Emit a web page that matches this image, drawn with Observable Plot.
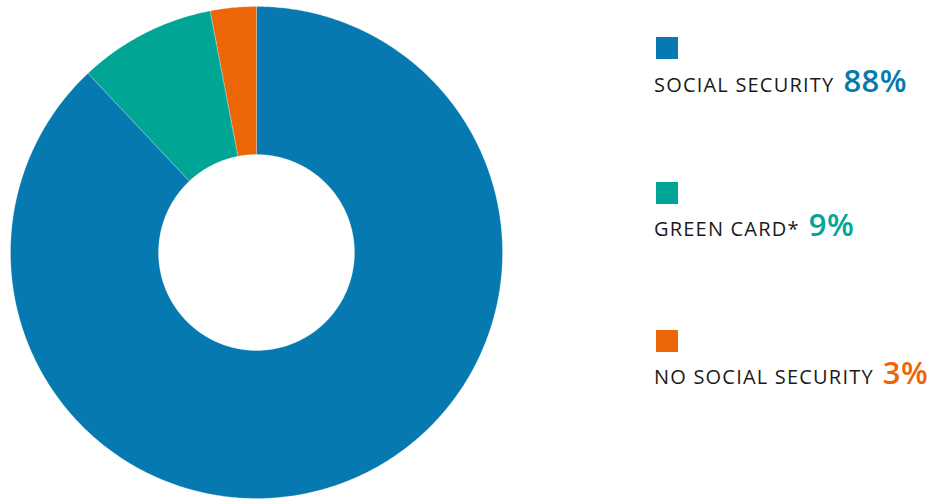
<!DOCTYPE html>
<html>
<head>
<meta charset="utf-8">
<script src="https://cdn.jsdelivr.net/npm/d3@7"></script>
<script src="https://cdn.jsdelivr.net/npm/@observablehq/plot@0.6"></script>
<style>
  html, body { margin: 0; padding: 0; background: #fff; }
  #wrap { position: relative; width: 931px; height: 499px; overflow: hidden; }
  #chart { position: absolute; left: 0; top: 0; }
  .item { position: absolute; left: 654px; font-family: "Open Sans", sans-serif; }
  .sw { position: absolute; left: 2px; width: 22px; height: 22px; }
  .lab { position: absolute; left: 0; white-space: nowrap; font-size: 20px; letter-spacing: 1.2px; color: #1a1a1a; line-height: 1; }
  .pct { font-weight: 600; font-size: 31px; letter-spacing: 0.5px; margin-left: 9px; }
</style>
</head>
<body>
<div id="wrap">
  <div id="chart"></div>
  <div id="legend"></div>
</div>
<script>
const categories = ["SOCIAL SECURITY", "GREEN CARD*", "NO SOCIAL SECURITY"];
const values = [88, 9, 3];
const colors = ["#0679b0", "#00a596", "#ec6608"];

const innerRatio = 98 / 246;

// build ring polygons from the data through d3.pie angles
const arcs = d3.pie().sort(null).value(d => d)(values);
const pts = [];
arcs.forEach((a, i) => {
  const steps = Math.max(8, Math.ceil((a.endAngle - a.startAngle) / (Math.PI / 360)));
  for (let s = 0; s <= steps; s++) {
    const t = a.startAngle + (a.endAngle - a.startAngle) * s / steps;
    pts.push({cat: categories[i], x: Math.sin(t), y: Math.cos(t)});
  }
  for (let s = steps; s >= 0; s--) {
    const t = a.startAngle + (a.endAngle - a.startAngle) * s / steps;
    pts.push({cat: categories[i], x: innerRatio * Math.sin(t), y: innerRatio * Math.cos(t)});
  }
});

const chart = Plot.plot({
  width: 512,
  height: 499,
  marginLeft: 10,
  marginRight: 10,
  marginTop: 6,
  marginBottom: 1,
  x: {domain: [-1, 1], axis: null},
  y: {domain: [-1, 1], axis: null},
  color: {domain: categories, range: colors},
  marks: [
    Plot.line(pts, {x: "x", y: "y", z: "cat", fill: "cat", stroke: "#ffffff", strokeWidth: 0.4, strokeOpacity: 0.6, curve: "linear-closed"})
  ]
});
document.getElementById("chart").appendChild(chart);

const swTops = [37, 182, 330];
const baselines = [91, 235, 383];
const legend = document.getElementById("legend");
categories.forEach((c, i) => {
  const sw = document.createElement("div");
  sw.className = "sw";
  sw.style.left = "656px";
  sw.style.top = swTops[i] + "px";
  sw.style.background = colors[i];
  legend.appendChild(sw);
  const lab = document.createElement("div");
  lab.className = "item lab";
  lab.style.left = "654px";
  lab.style.top = (baselines[i] - 26) + "px";
  lab.innerHTML = c + '<span class="pct" style="color:' + colors[i] + '">' + values[i] + '%</span>';
  legend.appendChild(lab);
});
</script>
</body>
</html>
